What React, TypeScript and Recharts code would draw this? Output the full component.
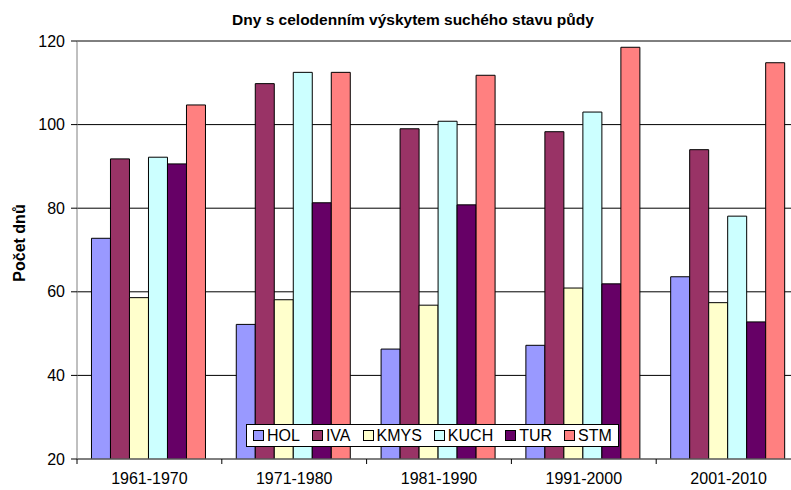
import React from "react";
import { BarChart, Bar, XAxis, YAxis, CartesianGrid, Legend } from "recharts";

const categories = ["1961-1970", "1971-1980", "1981-1990", "1991-2000", "2001-2010"];
const HOL = [72.8, 52.2, 46.3, 47.2, 63.6];
const IVA = [91.8, 109.8, 99.0, 98.3, 94.0];
const KMYS = [58.6, 58.1, 56.8, 60.9, 57.4];
const KUCH = [92.2, 112.5, 100.8, 103.0, 78.1];
const TUR = [90.6, 81.3, 80.8, 61.9, 52.8];
const STM = [104.7, 112.5, 111.8, 118.5, 114.8];
const yTicks = [20, 40, 60, 80, 100, 120];

const seriesDefs = [
  { key: "HOL", values: HOL, color: "#9999FF" },
  { key: "IVA", values: IVA, color: "#993366" },
  { key: "KMYS", values: KMYS, color: "#FFFFCC" },
  { key: "KUCH", values: KUCH, color: "#CCFFFF" },
  { key: "TUR", values: TUR, color: "#660066" },
  { key: "STM", values: STM, color: "#FF8080" },
];

const data = categories.map((c, i) => {
  const row: any = { name: c };
  seriesDefs.forEach((s) => (row[s.key] = s.values[i]));
  return row;
});

const FONT = "'Liberation Sans', Arial, sans-serif";
const CHART_W = 802;
const PLOT_LEFT = 77;
const PLOT_RIGHT = 801;
const PLOT_BOTTOM = 459;
const BAND = (PLOT_RIGHT - PLOT_LEFT) / categories.length;

const XTick = (props: any) => {
  const { x, payload } = props;
  const lx = x - BAND / 2;
  return (
    <g>
      <line x1={lx} y1={PLOT_BOTTOM} x2={lx} y2={PLOT_BOTTOM + 5} stroke="#000" strokeWidth={1} />
      <text x={x} y={PLOT_BOTTOM + 25} textAnchor="middle" fontFamily={FONT} fontSize={16} fill="#000">
        {payload.value}
      </text>
    </g>
  );
};

const LegendContent = () => (
  <div
    style={{
      position: "absolute",
      left: 246,
      top: 424,
      width: 373,
      height: 23,
      boxSizing: "border-box",
      border: "1px solid #000",
      background: "#fff",
      display: "flex",
      alignItems: "center",
      paddingLeft: 6,
      fontFamily: FONT,
      fontSize: 16,
      color: "#000",
      whiteSpace: "nowrap",
    }}
  >
    {seriesDefs.map((s) => (
      <div key={s.key} style={{ display: "flex", alignItems: "center", marginRight: 12 }}>
        <div
          style={{
            width: 9,
            height: 9,
            background: s.color,
            border: "1px solid #000",
            marginRight: 3,
          }}
        />
        <span>{s.key}</span>
      </div>
    ))}
  </div>
);

export default function App() {
  return (
    <div style={{ position: "absolute", left: 0, top: 0, width: 791, height: 490, overflow: "hidden", background: "#fff" }}>
      <div
        style={{
          position: "absolute",
          left: 0,
          width: 791,
          top: 11,
          textAlign: "center",
          fontFamily: FONT,
          fontWeight: "bold",
          fontSize: 15.5,
          color: "#000",
          paddingLeft: 35,
          boxSizing: "border-box",
        }}
      >
        Dny s celodenním výskytem suchého stavu půdy
      </div>
      <div
        style={{
          position: "absolute",
          left: 20,
          top: 243,
          transform: "translate(-50%, -50%) rotate(-90deg)",
          fontFamily: FONT,
          fontWeight: "bold",
          fontSize: 16,
          whiteSpace: "nowrap",
          color: "#000",
        }}
      >
        Počet dnů
      </div>
      <div style={{ position: "absolute", left: 0, top: 0 }}>
        <BarChart
          width={CHART_W}
          height={490}
          data={data}
          margin={{ top: 41, right: CHART_W - PLOT_RIGHT, bottom: 0, left: 0 }}
          barCategoryGap="10%"
          barGap={0}
        >
          <CartesianGrid vertical={false} stroke="#000" strokeWidth={1} />
          <XAxis
            dataKey="name"
            height={490 - 41 - (PLOT_BOTTOM - 41)}
            axisLine={{ stroke: "#808080" }}
            tickLine={false}
            tick={<XTick />}
            interval={0}
          />
          <YAxis
            width={PLOT_LEFT}
            domain={[20, 120]}
            ticks={yTicks}
            allowDataOverflow
            axisLine={{ stroke: "#808080" }}
            tickLine={{ stroke: "#000" }}
            tickSize={6}
            tickMargin={6}
            tick={{ fontFamily: FONT, fontSize: 16, fill: "#000" }}
          />
          {seriesDefs.map((s) => (
            <Bar
              key={s.key}
              dataKey={s.key}
              fill={s.color}
              stroke="#000"
              strokeWidth={1}
              isAnimationActive={false}
            />
          ))}
          <Legend content={<LegendContent />} wrapperStyle={{ position: "absolute", left: 0, top: 0, width: 0, height: 0 }} />
        </BarChart>
      </div>
    </div>
  );
}
